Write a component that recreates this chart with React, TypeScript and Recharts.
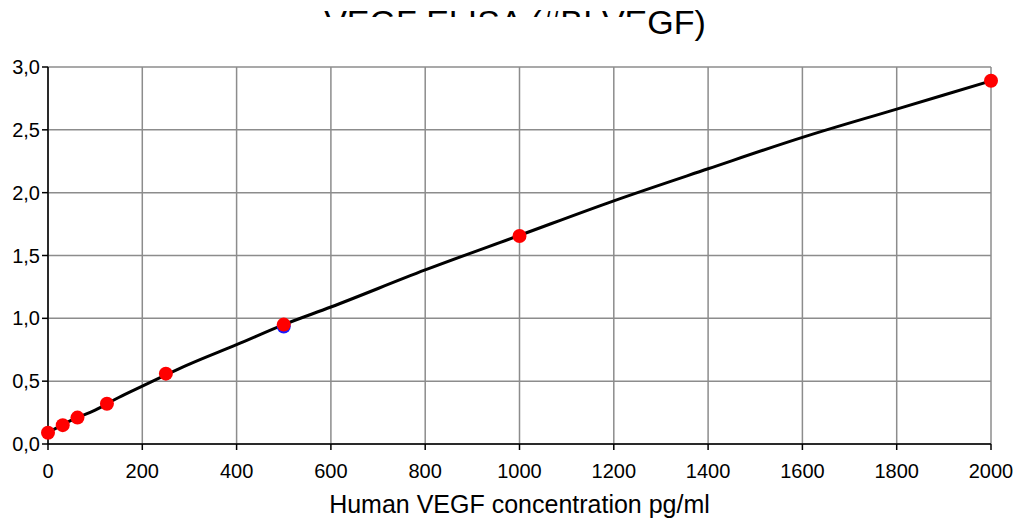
import React from "react"
import {
  CartesianGrid,
  ComposedChart,
  Line,
  Scatter,
  XAxis,
  YAxis,
} from "recharts"

// fitted standard curve
const curveX = [0, 50, 100, 150, 200, 300, 400, 500, 600, 800, 1000, 1200, 1400, 1600, 1800, 2000]
const curveY = [0.09, 0.19, 0.27, 0.37, 0.46, 0.635, 0.79, 0.95, 1.09, 1.385, 1.66, 1.935, 2.19, 2.44, 2.665, 2.89]

// measured standards (red) and the hidden second reading at 500 (blue)
const standardX = [0, 31.25, 62.5, 125, 250, 500, 1000, 2000]
const standardY = [0.09, 0.15, 0.21, 0.32, 0.56, 0.95, 1.655, 2.89]
const sampleX = [500]
const sampleY = [0.935]

const xTicks = [0, 200, 400, 600, 800, 1000, 1200, 1400, 1600, 1800, 2000]
const yTicks = [0, 0.5, 1, 1.5, 2, 2.5, 3]

const title = "VEGF ELISA (#BI VEGF)"
const xLabel = "Human VEGF concentration pg/ml"

const curve = curveX.map((x, i) => ({ x, y: curveY[i] }))
const standards = standardX.map((x, i) => ({ x, y: standardY[i] }))
const samples = sampleX.map((x, i) => ({ x, y: sampleY[i] }))

const FONT = "'Liberation Sans', Arial, sans-serif"

const dot = (color: string) => (p: any) => (
  <circle cx={p.cx} cy={p.cy} r={7} fill={color} />
)

export default function App() {
  return (
    <div style={{ position: "absolute", left: 0, top: 0, width: 1015, height: 522, background: "#fff" }}>
      <ComposedChart
        width={1015}
        height={522}
        margin={{ top: 67, right: 24, left: 0, bottom: 0 }}
      >
        <CartesianGrid stroke="#8c8c8c" strokeWidth={1.5} />
        <XAxis
          type="number"
          dataKey="x"
          domain={[0, 2000]}
          ticks={xTicks}
          height={78}
          tickSize={6}
          tickMargin={14}
          interval={0}
          axisLine={{ stroke: "#000", strokeWidth: 1.5 }}
          tickLine={{ stroke: "#000", strokeWidth: 1.5 }}
          tick={{ fill: "#000", fontSize: 20, fontFamily: FONT }}
          label={{
            value: xLabel,
            position: "insideBottom",
            offset: 9,
            fill: "#000",
            fontSize: 25,
            fontFamily: FONT,
          }}
        />
        <YAxis
          type="number"
          dataKey="y"
          domain={[0, 3]}
          ticks={yTicks}
          width={48}
          tickSize={6}
          tickMargin={2}
          interval={0}
          axisLine={{ stroke: "#000", strokeWidth: 1.5 }}
          tickLine={{ stroke: "#000", strokeWidth: 1.5 }}
          tick={{ fill: "#000", fontSize: 20, fontFamily: FONT }}
          tickFormatter={(v: number) => v.toFixed(1).replace(".", ",")}
        />
        <Line
          data={curve}
          dataKey="y"
          type="monotone"
          stroke="#000"
          strokeWidth={3}
          dot={false}
          activeDot={false}
          isAnimationActive={false}
        />
        <Scatter data={samples} dataKey="y" shape={dot("#1a1aff")} isAnimationActive={false} />
        <Scatter data={standards} dataKey="y" shape={dot("#ff0000")} isAnimationActive={false} />
      </ComposedChart>
      <div
        style={{
          position: "absolute",
          left: 0,
          width: 1030,
          top: 2,
          textAlign: "center",
          fontFamily: FONT,
          fontSize: 34,
          lineHeight: "40px",
          color: "#000",
          whiteSpace: "nowrap",
        }}
      >
        {title}
      </div>
      <div
        style={{
          position: "absolute",
          left: 318,
          top: 17,
          width: 329,
          height: 40,
          background: "#fff",
        }}
      />
    </div>
  )
}
